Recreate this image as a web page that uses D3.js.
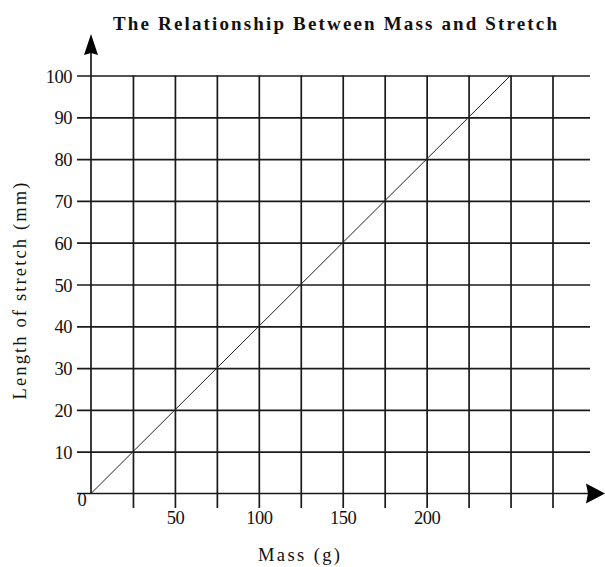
<!DOCTYPE html>
<html>
<head>
<meta charset="utf-8">
<script src="https://cdn.jsdelivr.net/npm/d3@7"></script>
<style>
  body { margin: 0; background: #fff; }
  svg { display: block; }
  text { font-family: "Liberation Serif", "Times New Roman", serif; fill: #111; }
</style>
</head>
<body>
<svg id="chart" width="605" height="567"></svg>
<script>
// data
var massValues = [0, 25, 50, 75, 100, 125, 150, 175, 200, 225, 250];
var stretchValues = [0, 10, 20, 30, 40, 50, 60, 70, 80, 90, 100];
var xGridValues = [25, 50, 75, 100, 125, 150, 175, 200, 225, 250, 275];
var xTickLabels = [50, 100, 150, 200];
var yTickValues = [10, 20, 30, 40, 50, 60, 70, 80, 90, 100];

var svg = d3.select('#chart');

var x = d3.scaleLinear().domain([0, 275]).range([91, 552.5]);
var y = d3.scaleLinear().domain([0, 100]).range([493.5, 75.5]);

var ink = '#1a1a1a';
var gridW = 1.7;
var labelSize = '18.5px';

// horizontal grid lines (with left tick stubs)
var yAxis = d3.axisLeft(y).tickValues(yTickValues).tickSizeOuter(0).tickSize(14);
var gy = svg.append('g')
  .attr('transform', `translate(${x(0)},0)`)
  .call(yAxis);
gy.select('.domain').remove();
gy.selectAll('.tick line')
  .attr('x1', -14)
  .attr('x2', 590 - x(0))
  .attr('stroke', ink)
  .attr('stroke-width', gridW);
gy.selectAll('.tick text')
  .attr('x', -19)
  .attr('dy', '0.36em')
  .attr('letter-spacing', '-0.5')
  .style('font-size', labelSize)
  .style('font-family', '"Liberation Serif", serif')
  .attr('fill', '#111');

// vertical grid lines (with bottom tick stubs)
var xAxis = d3.axisBottom(x).tickValues(xGridValues).tickSizeOuter(0).tickSize(14)
  .tickFormat(d => xTickLabels.indexOf(d) >= 0 ? d : '');
var gx = svg.append('g')
  .attr('transform', `translate(0,${y(0)})`)
  .call(xAxis);
gx.select('.domain').remove();
gx.selectAll('.tick line')
  .attr('y1', y(100) - y(0))
  .attr('y2', 14.5)
  .attr('stroke', ink)
  .attr('stroke-width', gridW);
gx.selectAll('.tick text')
  .attr('y', 17)
  .attr('letter-spacing', '-0.5')
  .style('font-size', labelSize)
  .style('font-family', '"Liberation Serif", serif')
  .attr('fill', '#111');

// axes with arrowheads
svg.append('line')
  .attr('x1', 77).attr('x2', 590)
  .attr('y1', y(0)).attr('y2', y(0))
  .attr('stroke', ink).attr('stroke-width', gridW);
svg.append('line')
  .attr('x1', x(0)).attr('x2', x(0))
  .attr('y1', y(0)).attr('y2', 50)
  .attr('stroke', ink).attr('stroke-width', gridW);

svg.append('path')
  .attr('d', `M${x(0)},34 L${x(0) + 7},55 L${x(0)},53 L${x(0) - 7},55 Z`)
  .attr('fill', '#000');
svg.append('path')
  .attr('d', `M605,${y(0)} L586,${y(0) - 10} L588,${y(0)} L586,${y(0) + 10} Z`)
  .attr('fill', '#000');

// origin label
svg.append('text')
  .attr('x', 82).attr('y', 506)
  .attr('text-anchor', 'middle')
  .style('font-size', labelSize)
  .text('0');

// the stretch line
var line = d3.line()
  .x((d, i) => x(massValues[i]))
  .y(d => y(d));
svg.append('path')
  .datum(stretchValues)
  .attr('d', line)
  .attr('fill', 'none')
  .attr('stroke', '#222')
  .attr('stroke-width', 1);

// title and axis labels
svg.append('text')
  .attr('x', 335).attr('y', 30)
  .attr('text-anchor', 'middle')
  .attr('textLength', 444)
  .attr('lengthAdjust', 'spacing')
  .style('font-size', '19px')
  .style('font-weight', 'bold')
  .text('The Relationship Between Mass and Stretch');

svg.append('text')
  .attr('x', 299).attr('y', 561)
  .attr('text-anchor', 'middle')
  .attr('textLength', 82)
  .attr('lengthAdjust', 'spacing')
  .style('font-size', labelSize)
  .text('Mass (g)');

svg.append('text')
  .attr('transform', 'translate(26,291) rotate(-90)')
  .attr('text-anchor', 'middle')
  .attr('textLength', 217)
  .attr('lengthAdjust', 'spacing')
  .style('font-size', labelSize)
  .text('Length of stretch (mm)');
</script>
</body>
</html>
